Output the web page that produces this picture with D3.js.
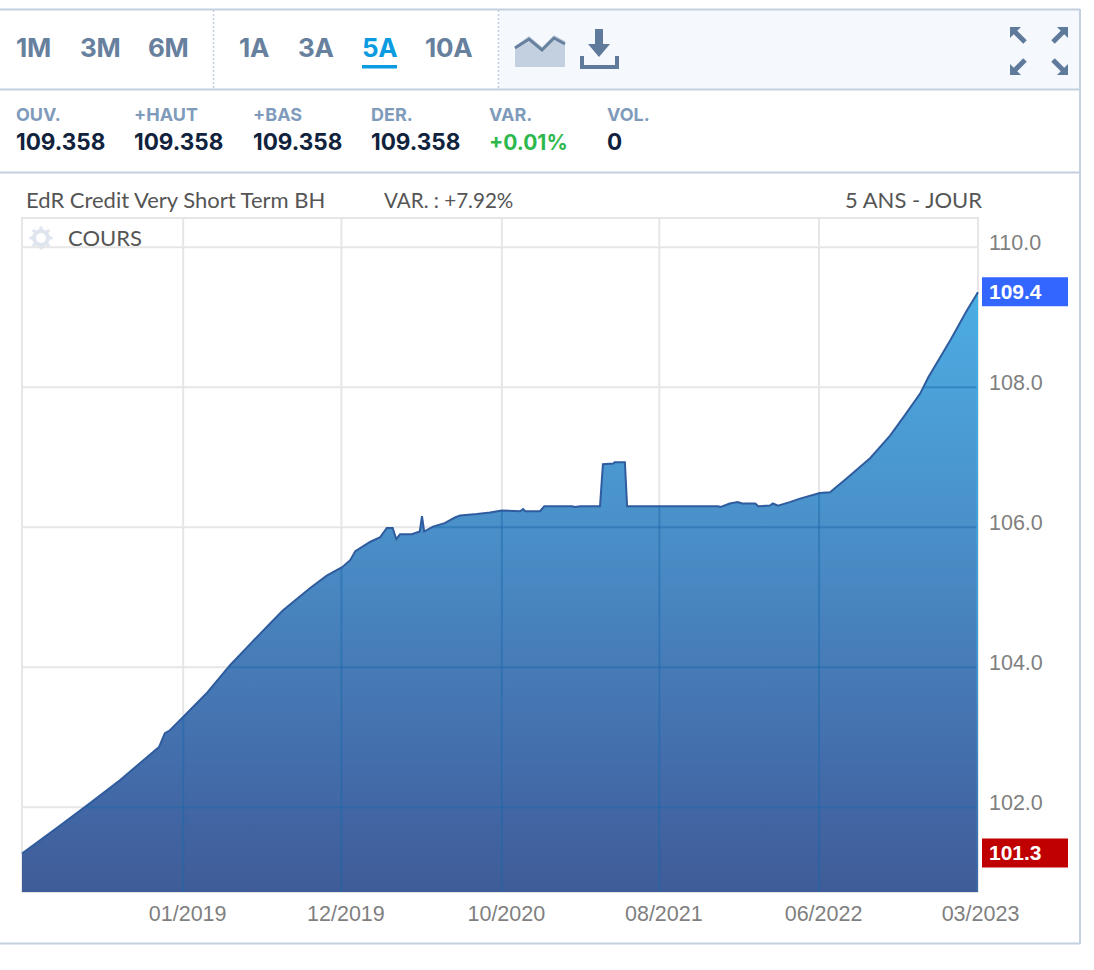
<!DOCTYPE html>
<html><head><meta charset="utf-8">
<script src="https://cdnjs.cloudflare.com/ajax/libs/d3/7.8.5/d3.min.js"></script>
<style>html,body{margin:0;padding:0;background:#fff}svg{display:block}</style>
</head><body><svg id="c" width="1094" height="970"></svg>
<script>
const sessions=[0,52,93,134,179,187,195,202,220,253,284,314,339,356,393,416,437,448,455,475,489,498,506,511,516,532,543,546,549,561,577,591,598,621,639,655,680,684,687,707,713,730,751,755,762,789,793,807,809,823,826,950,954,966,977,983,1001,1005,1021,1025,1032,1048,1062,1089,1103,1126,1158,1185,1205,1226,1237,1267,1290,1305];
const prices=[101.34,101.74,102.06,102.39,102.79,102.86,103.06,103.10,103.29,103.64,104.03,104.36,104.63,104.81,105.13,105.31,105.43,105.53,105.66,105.79,105.86,105.99,105.99,105.83,105.90,105.90,105.94,106.16,105.94,106.01,106.06,106.14,106.17,106.19,106.21,106.24,106.23,106.26,106.23,106.23,106.30,106.30,106.30,106.29,106.30,106.30,106.90,106.91,106.93,106.93,106.30,106.30,106.29,106.34,106.36,106.34,106.34,106.30,106.31,106.34,106.31,106.36,106.41,106.49,106.50,106.70,106.99,107.31,107.60,107.91,108.14,108.67,109.10,109.358];
const xTickSessions=[220,436,655,870,1088,1305];
const xTickLabels=["01/2019","12/2019","10/2020","08/2021","06/2022","03/2023"];
const yTicks=[110,108,106,104,102];
const lastValue=109.358, firstValue=101.34;
const periodsA=["1M","3M","6M"], periodsB=["1A","3A","5A","10A"];
const statLabels=["OUV.","+HAUT","+BAS","DER.","VAR.","VOL."];
const statValues=["109.358","109.358","109.358","109.358","+0.01%","0"];

const svg=d3.select("#c");
const ui="Lato, 'Open Sans', sans-serif", bold="Inter, Lato, sans-serif", ax="'Liberation Sans', Arial, sans-serif";
const L=22,R=978,T=218,B=892;
const x=d3.scaleLinear().domain([0,1305]).range([L,R]);
const y=d3.scaleLinear().domain([110,100.79]).range([247.3,B]);
const line="#c3d0e0";

// frame and toolbar
svg.append("rect").attr("x",499).attr("y",10).attr("width",580).attr("height",79).attr("fill","#f5f9fd");
[[0,9.5,1080,9.5],[0,89.5,1080,89.5],[0,172.5,1080,172.5],[0,943.5,1080,943.5],[1080,9,1080,944]].forEach(d=>
 svg.append("line").attr("x1",d[0]).attr("y1",d[1]).attr("x2",d[2]).attr("y2",d[3]).attr("stroke",line).attr("stroke-width",2));
[213.5,498.5].forEach(d=>svg.append("line").attr("x1",d).attr("x2",d).attr("y1",10).attr("y2",89).attr("stroke",line).attr("stroke-width",1.5).attr("stroke-dasharray","2 2"));
const pX=[16,80,148,239,298,362,425];
periodsA.concat(periodsB).forEach((t,i)=>svg.append("text").attr("x",pX[i]).attr("y",57).text(t)
 .attr("font-family",bold).attr("font-weight",700).attr("font-size",26).attr("letter-spacing",-0.3).attr("fill",t==="5A"?"#0a9be0":"#67809e"));
svg.append("rect").attr("x",362).attr("y",65).attr("width",35).attr("height",3.5).attr("fill","#0a9be0");

// toolbar icons
svg.append("path").attr("d","M515 67V46L529 36L542 47L554 35L565 41V67Z").attr("fill","#c3d0e0");
svg.append("path").attr("d","M515 48L529 39L542 50L554 38L565 44").attr("fill","none").attr("stroke","#67809e").attr("stroke-width",3);
svg.append("path").attr("d","M595 29H603V44H610L599 57L588 44H595Z").attr("fill","#5f7a9b");
svg.append("path").attr("d","M582 56V67H617V56").attr("fill","none").attr("stroke","#5f7a9b").attr("stroke-width",4);
[[1019,36,-1,-1],[1059,36,1,-1],[1019,66,-1,1],[1059,66,1,1]].forEach(a=>{
 const g=svg.append("g").attr("transform",`translate(${a[0]},${a[1]}) scale(${a[2]},${a[3]})`);
 g.append("path").attr("d","M-6 -6L6 6").attr("stroke","#5f7a9b").attr("stroke-width",5);
 g.append("path").attr("d","M9 9V-2L-2 9Z").attr("fill","#5f7a9b");
});

// stats
const sX=[16,134,253,371,489,607];
statLabels.forEach((t,i)=>{
 svg.append("text").attr("x",sX[i]).attr("y",121).text(t).attr("font-family",bold).attr("font-weight",700).attr("font-size",18).attr("fill","#7f9bbb");
 svg.append("text").attr("x",sX[i]).attr("y",150).text(statValues[i]).attr("font-family",bold).attr("font-weight",700).attr("font-size",t==="VAR."?21:22.5).attr("fill",t==="VAR."?"#2db84d":"#10223c");
});

// chart titles
const ttl=(t,px,a,fs)=>svg.append("text").attr("x",px).attr("y",208).attr("text-anchor",a||"start").text(t).attr("font-family",ui).attr("font-size",fs||22).attr("fill","#555");
ttl("EdR Credit Very Short Term BH",26);ttl("VAR. : +7.92%",384,"start",20.6);ttl("5 ANS - JOUR",982,"end");

// grid
const grid=(g,c)=>{
 g.selectAll(".v").data(xTickSessions.slice(0,5)).join("line").attr("x1",d=>x(d)).attr("x2",d=>x(d)).attr("y1",T).attr("y2",B).attr("stroke",c).attr("stroke-width",2);
 g.selectAll(".h").data(yTicks).join("line").attr("x1",L).attr("x2",R).attr("y1",d=>y(d)).attr("y2",d=>y(d)).attr("stroke",c).attr("stroke-width",2);
};
grid(svg.append("g"),"#e6e6e6");
svg.append("rect").attr("x",L).attr("y",T).attr("width",R-L).attr("height",B-T).attr("fill","none").attr("stroke","#e6e6e6").attr("stroke-width",2);

// area
const defs=svg.append("defs");
const gr=defs.append("linearGradient").attr("id","fillG").attr("gradientUnits","userSpaceOnUse").attr("x1",0).attr("x2",0).attr("y1",y(lastValue)).attr("y2",B);
[[0,"#4cade3"],[.4,"#4a8fc8"],[.75,"#4470ae"],[1,"#3f5c98"]].forEach(s=>gr.append("stop").attr("offset",s[0]).attr("stop-color",s[1]));
const eg=defs.append("linearGradient").attr("id","edgeG").attr("gradientUnits","userSpaceOnUse").attr("x1",0).attr("x2",0).attr("y1",y(lastValue)).attr("y2",B);
[[0,"#3fb4e6"],[.6,"#3f9fd8"],[1,"#3a6aa8"]].forEach(s=>eg.append("stop").attr("offset",s[0]).attr("stop-color",s[1]));
const pts=sessions.map((s,i)=>[s,prices[i]]);
const areaGen=d3.area().x(d=>x(d[0])).y0(B).y1(d=>y(d[1]));
const lineGen=d3.line().x(d=>x(d[0])).y(d=>y(d[1]));
defs.append("clipPath").attr("id","areaClip").append("path").attr("d",areaGen(pts));
svg.append("path").attr("d",areaGen(pts)).attr("fill","url(#fillG)");
grid(svg.append("g").attr("clip-path","url(#areaClip)"),"rgba(25,105,170,.45)");
svg.append("rect").attr("x",R-1.5).attr("y",y(lastValue)).attr("width",1.5).attr("height",B-y(lastValue)).attr("fill","url(#edgeG)");
svg.append("path").attr("d",lineGen(pts)).attr("fill","none").attr("stroke","#2f5c9e").attr("stroke-width",2);

// legend
const gear=svg.append("g").attr("transform","translate(41,238)");
gear.append("circle").attr("r",7).attr("fill","none").attr("stroke","#dfe5ee").attr("stroke-width",4);
d3.range(8).forEach(i=>gear.append("rect").attr("x",-1.5).attr("y",-11.5).attr("width",3).attr("height",4).attr("fill","#dfe5ee").attr("transform",`rotate(${i*45})`));
svg.append("text").attr("x",68).attr("y",246).text("COURS").attr("font-family",ui).attr("font-size",22).attr("fill","#555");

// axes
const yAxis=svg.append("g").attr("transform",`translate(${R},0)`).call(d3.axisRight(y).tickValues(yTicks).tickFormat(d3.format(".1f")).tickSize(0).tickPadding(11));
const xAxis=svg.append("g").attr("transform",`translate(0,${B})`).call(d3.axisBottom(x).tickValues(xTickSessions).tickFormat((d,i)=>xTickLabels[i]).tickSize(0).tickPadding(14));
[yAxis,xAxis].forEach(a=>{a.select(".domain").remove();a.selectAll("text").attr("font-family",ax).attr("font-size",21.5).attr("fill","#7f7f7f")});
yAxis.selectAll("text").attr("dy","-0.0em").attr("dominant-baseline","middle").attr("transform","translate(0,-3.5)");
xAxis.selectAll("text").attr("transform",(d,i)=>`translate(${i===5?2:4},0)`);

// value tags
[[lastValue,"#3366ff"],[firstValue,"#c00000"]].forEach(([v,c])=>{
 svg.append("rect").attr("x",982).attr("y",y(v)-15).attr("width",86).attr("height",29).attr("fill",c);
 svg.append("text").attr("x",989).attr("y",y(v)+6.5).text(d3.format(".1f")(v)).attr("font-family",ax).attr("font-weight",700).attr("font-size",21).attr("fill","#fff");
});
</script></body></html>
